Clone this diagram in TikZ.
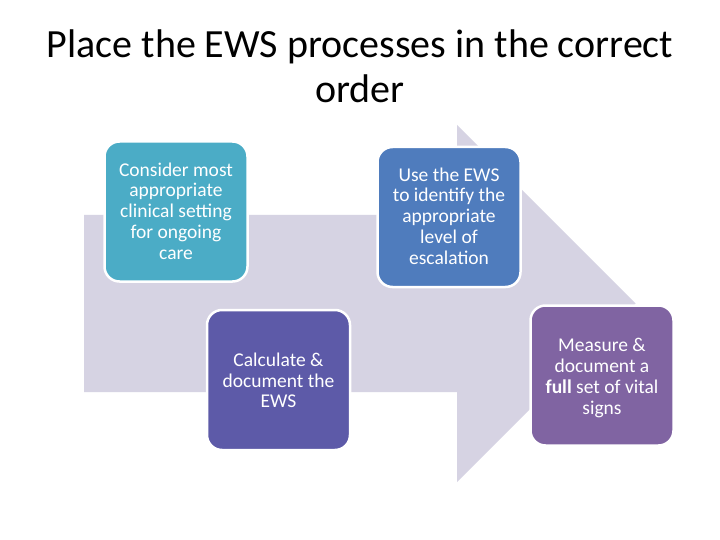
\documentclass[tikz,border=0pt]{standalone}
\usepackage{fontspec}
\setmainfont{Carlito}
\definecolor{arrowc}{HTML}{D6D3E3}
\definecolor{tealc}{HTML}{4BACC6}
\definecolor{bluec}{HTML}{4F7CBD}
\definecolor{indigoc}{HTML}{5D5AA8}
\definecolor{purplec}{HTML}{8064A2}
\tikzset{
  stepbox/.style={draw=white, line width=2.5pt, rounded corners=15pt, minimum width=143pt, minimum height=140pt, inner sep=0pt},
  boxtext/.style={text=white, align=center, font=\fontsize{19.5}{20.7}\selectfont, inner sep=0pt},
  titletext/.style={align=center, font=\fontsize{40}{45}\selectfont, inner sep=0pt}
}
\begin{document}
\begin{tikzpicture}[x=1pt,y=-1pt]
\useasboundingbox (0,0) rectangle (720,540);
\fill[white] (0,0) rectangle (720,540);
% big arrow
\fill[arrowc] (84,215) -- (457,215) -- (457,125) -- (635.5,303.5) -- (457,482) -- (457,392) -- (84,392) -- cycle;
% title
\node[titletext, anchor=base] (t1) at (360,58) {Place the EWS processes in the correct};
\node[titletext, anchor=base] (t2) at (360,103) {order};
% boxes
\node[stepbox, fill=tealc] (b1) at (176,211.5) {};
\node[stepbox, fill=bluec] (b2) at (449,217) {};
\node[stepbox, fill=indigoc] (b3) at (278.5,380) {};
\node[stepbox, fill=purplec] (b4) at (602,375.5) {};
\node[boxtext] (l1) at (176,211) {Consider most\\appropriate\\clinical setting\\for ongoing\\care};
\node[boxtext] (l2) at (449,216) {Use the EWS\\to identify the\\appropriate\\level of\\escalation};
\node[boxtext] (l3) at (278.5,380.5) {Calculate \&\\document the\\EWS};
\node[boxtext] (l4) at (602,378) {Measure \&\\document a\\\textbf{full} set of vital\\signs};
\end{tikzpicture}
\end{document}
